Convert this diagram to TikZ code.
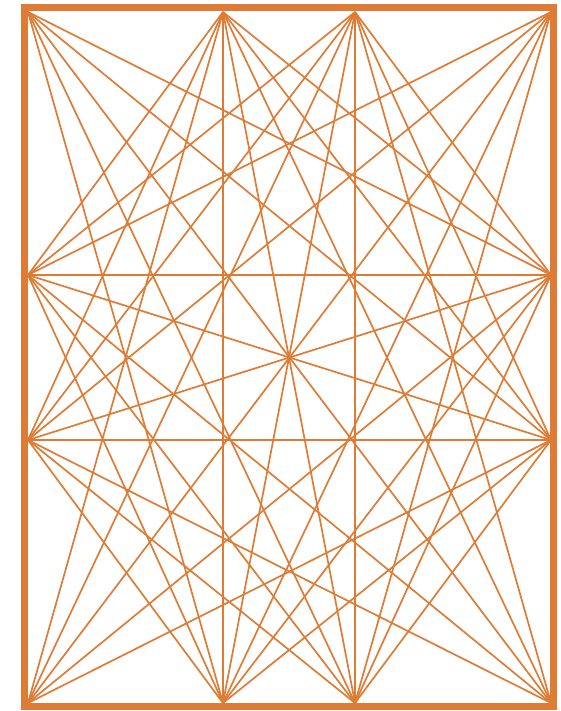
\documentclass[tikz,border=0pt]{standalone}
\definecolor{org}{RGB}{222,124,54}
\begin{document}
\begin{tikzpicture}[x=1pt,y=-1pt,
  edge/.style={draw=org, line width=1.7pt},
  frame/.style={draw=org, line width=7pt}]
\useasboundingbox (0,0) rectangle (561,711);
\foreach \n/\x/\y in {1/28/12, 2/223/12, 3/355/12, 4/551/12, 5/551/275, 6/551/440, 7/551/703, 8/355/703, 9/223/703, 10/28/703, 11/28/440, 12/28/275}
  \coordinate (p\n) at (\x,\y);
\foreach \a/\ax/\ay in {1/28/12, 2/223/12, 3/355/12, 4/551/12, 5/551/275, 6/551/440, 7/551/703, 8/355/703, 9/223/703, 10/28/703, 11/28/440, 12/28/275}
  \foreach \b/\bx/\by in {1/28/12, 2/223/12, 3/355/12, 4/551/12, 5/551/275, 6/551/440, 7/551/703, 8/355/703, 9/223/703, 10/28/703, 11/28/440, 12/28/275}
  {\ifnum\a<\b
     \ifnum\ax=\bx\relax\else
       \ifnum\ay=\by\relax\else
         \draw[edge] (p\a) -- (p\b);
       \fi
     \fi
   \fi}
\draw[edge] (p2) -- (p9);
\draw[edge] (p3) -- (p8);
\draw[edge] (p12) -- (p5);
\draw[edge] (p11) -- (p6);
\draw[frame] (24.5,7.5) rectangle (553.5,706.5);
\end{tikzpicture}
\end{document}
